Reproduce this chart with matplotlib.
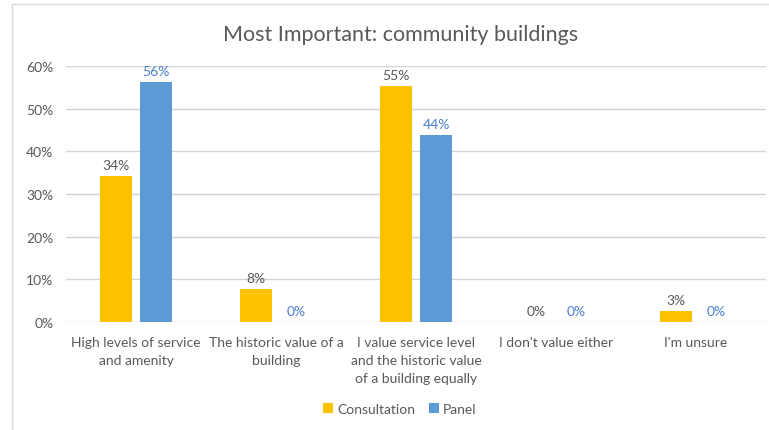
import numpy as np
import matplotlib
matplotlib.use("Agg")
import matplotlib.pyplot as plt
from matplotlib.patches import Rectangle
from matplotlib.ticker import PercentFormatter

plt.rcParams['font.family'] = ['Lato', 'DejaVu Sans']

# data
categories = ["High levels of service\nand amenity",
              "The historic value of a\nbuilding",
              "I value service level\nand the historic value\nof a building equally",
              "I don't value either",
              "I'm unsure"]
consultation = [0.342, 0.077, 0.553, 0.0, 0.026]
panel = [0.562, 0.0, 0.438, 0.0, 0.0]
series_names = ["Consultation", "Panel"]

yellow = "#FFC000"
blue = "#5B9BD5"
grey_txt = "#595959"
blue_txt = "#4A7FD0"

fig = plt.figure(figsize=(7.69, 4.31), dpi=100)
ax = fig.add_axes([66/769, 1-323/431, 700/769, 256/431])

# chart frame (cropped on the right / bottom)
fig.patches.append(Rectangle((12/769, -0.1), 1.2, 1-5/431+0.1, transform=fig.transFigure,
                             fill=False, edgecolor="#D9D9D9", lw=1))

x = np.arange(len(categories))
w = 0.229
off = 0.143
b1 = ax.bar(x - off, consultation, w, color=yellow, label=series_names[0], zorder=3)
b2 = ax.bar(x + off, panel, w, color=blue, label=series_names[1], zorder=3)

for rect, v in zip(b1, consultation):
    ax.text(rect.get_x() + rect.get_width()/2, v + 0.012, "{:.0f}%".format(v*100),
            ha="center", va="bottom", fontsize=10, color=grey_txt)
for rect, v in zip(b2, panel):
    ax.text(rect.get_x() + rect.get_width()/2, v + 0.012, "{:.0f}%".format(v*100),
            ha="center", va="bottom", fontsize=10, color=blue_txt)

ax.set_xlim(-0.5, len(categories) - 0.5)
ax.set_ylim(0, 0.6)
ax.set_yticks(np.arange(0, 0.61, 0.1))
ax.yaxis.set_major_formatter(PercentFormatter(1.0, decimals=0))
ax.set_xticks(x)
ax.set_xticklabels(categories, fontsize=10, color=grey_txt, linespacing=1.6)
ax.tick_params(axis="y", length=0, pad=9, labelsize=10, labelcolor=grey_txt)
ax.tick_params(axis="x", length=0, pad=10)
ax.grid(axis="y", color="#D4D4D4", lw=1, zorder=0)
for s in ax.spines.values():
    s.set_visible(False)

fig.text(401/769, 1-35/431, "Most Important: community buildings", ha="center", va="center",
         fontsize=15.5, color=grey_txt)

fig.legend(handles=[b1, b2], labels=series_names, loc="center", bbox_to_anchor=(400/769, 1-410/431),
           ncol=2, frameon=False, fontsize=10, handlelength=0.7, handleheight=0.7,
           handletextpad=0.3, columnspacing=1.0, labelcolor=grey_txt)

fig.savefig("out.png", dpi=100)
